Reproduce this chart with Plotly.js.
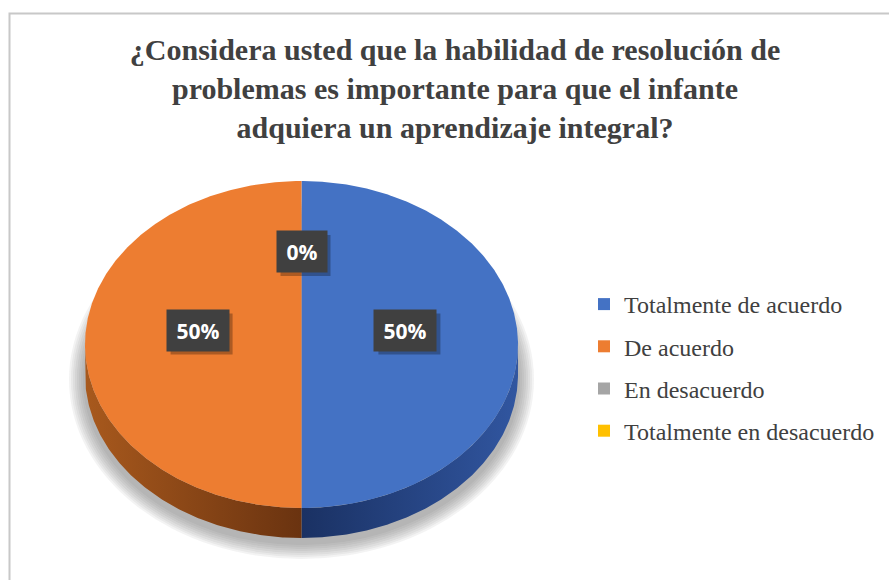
<!DOCTYPE html>
<html>
<head>
<meta charset="utf-8">
<script src="https://cdn.plot.ly/plotly-3.0.1.min.js"></script>
<style>html,body{margin:0;padding:0;background:#fff;}#chart{width:889px;height:580px;}</style>
</head>
<body>
<div id="chart"></div>
<script>
const categories = ['Totalmente de acuerdo', 'De acuerdo', 'En desacuerdo', 'Totalmente en desacuerdo'];
const values = [50, 50, 0, 0];
const colors = ['#4472C4', '#ED7D31', '#A5A5A5', '#FFC000'];
const sideColors = [
  [[0, '#1a3163'], [1, '#3156a0']],
  [[0, '#a8591d'], [1, '#6a3310']],
  [[0, '#6b6b6b'], [1, '#555555']],
  [[0, '#a67c00'], [1, '#8a6600']]
];
const titleText = '¿Considera usted que la habilidad de resolución de<br>problemas es importante para que el infante<br>adquiera un aprendizaje integral?';

// pie geometry (pixel-like axis units)
const W = 889, H = 580;
const cx = 301.5, cy = 344.5, rx = 216.5, ry = 163.5, depth = 30;
const labelK = 0.48, labelCy = 330;

function pt(t, dy) {
  const r = t * Math.PI / 180;
  return [cx + rx * Math.sin(r), cy - ry * Math.cos(r) + dy];
}

const total = values.reduce((a, b) => a + b, 0);
const sideTraces = [], topTraces = [], legendTraces = [], annotations = [];
const shapes = [];
// soft shadow under the pie
for (let e = 2; e <= 16; e += 2) {
  shapes.push({type: 'circle', xref: 'x', yref: 'y', layer: 'below',
    x0: cx - rx - e, x1: cx + rx + e, y0: cy + depth + 5 - ry - e, y1: cy + depth + 5 + ry + e,
    fillcolor: 'rgba(120,120,120,0.085)', line: {width: 0}});
}

let cum = 0;
const usedPos = [];
values.forEach((v, i) => {
  const a0 = cum / total * 360, a1 = (cum + v) / total * 360;
  cum += v;
  if (v > 0) {
    // top face
    const xs = [cx], ys = [cy];
    for (let t = a0; t <= a1 + 1e-9; t += 0.5) { const p = pt(t, 0); xs.push(p[0]); ys.push(p[1]); }
    xs.push(cx); ys.push(cy);
    topTraces.push({x: xs, y: ys, type: 'scatter', mode: 'lines', fill: 'toself', fillcolor: colors[i],
      line: {width: 0, color: colors[i]}, hoverinfo: 'skip', showlegend: false});
    // side band (front half only)
    const s0 = Math.max(a0, 90), s1 = Math.min(a1, 270);
    if (s1 > s0) {
      const sx = [], sy = [];
      for (let t = s0; t <= s1 + 1e-9; t += 0.5) { const p = pt(t, 0); sx.push(p[0]); sy.push(p[1]); }
      for (let t = s1; t >= s0 - 1e-9; t -= 0.5) { const p = pt(t, depth); sx.push(p[0]); sy.push(p[1]); }
      sx.push(sx[0]); sy.push(sy[0]);
      sideTraces.push({x: sx, y: sy, type: 'scatter', mode: 'lines', fill: 'toself',
        fillgradient: {type: 'horizontal', colorscale: sideColors[i]},
        line: {width: 0, color: colors[i]}, hoverinfo: 'skip', showlegend: false});
    }
  }
  // data label
  const mid = (a0 + a1) / 2;
  const r = mid * Math.PI / 180;
  const lx = cx + labelK * rx * Math.sin(r);
  const ly = labelCy - labelK * ry * Math.cos(r);
  const key = lx.toFixed(1) + ',' + ly.toFixed(1);
  if (usedPos.indexOf(key) === -1) {
    usedPos.push(key);
    const txt = Math.round(v / total * 100) + '%';
    const w = txt.length === 3 ? 50 : 38;
    const hw = (w + 12) / 2, hh = 20.5;
    shapes.push({type: 'rect', xref: 'x', yref: 'y', x0: lx - hw + 4, x1: lx + hw + 4, y0: ly - hh + 4, y1: ly + hh + 4,
      fillcolor: 'rgba(0,0,0,0.28)', line: {width: 0}});
    annotations.push({x: lx, y: ly, xref: 'x', yref: 'y', text: txt, showarrow: false,
      font: {family: 'Open Sans', size: 21, color: '#ffffff', weight: 'bold'},
      bgcolor: '#404040', borderpad: 6, width: w, height: 29});
  }
  legendTraces.push({x: [null], y: [null], type: 'scatter', mode: 'markers', name: categories[i],
    legendgroup: 'g' + i, marker: {symbol: 'square', size: 12, color: colors[i]}, hoverinfo: 'skip'});
});

// chart-area border
shapes.push({type: 'rect', xref: 'paper', yref: 'paper', x0: 9.5 / W, x1: 1.05, y0: -0.05, y1: 1 - 13.5 / H,
  line: {color: '#c8c8c8', width: 2}, fillcolor: 'rgba(0,0,0,0)'});

const layout = {
  width: W, height: H,
  margin: {l: 0, r: 0, t: 0, b: 0},
  paper_bgcolor: '#ffffff', plot_bgcolor: '#ffffff',
  xaxis: {range: [0, W], visible: false, fixedrange: true},
  yaxis: {range: [H, 0], visible: false, fixedrange: true},
  title: {text: titleText, x: 455 / W, xanchor: 'center', xref: 'paper', y: 1 - 60 / H, yref: 'container', yanchor: 'top',
    font: {family: 'Liberation Serif', size: 30, color: '#404040', weight: 'bold'}},
  showlegend: true,
  legend: {x: 584 / W, xanchor: 'left', y: 1 - 282 / H, yanchor: 'top', tracegroupgap: 8,
    font: {family: 'Liberation Serif', size: 24, color: '#404040'}, bgcolor: 'rgba(0,0,0,0)'},
  shapes: shapes,
  annotations: annotations
};

Plotly.newPlot('chart', sideTraces.concat(topTraces).concat(legendTraces), layout, {staticPlot: true, displayModeBar: false});
</script>
</body>
</html>
